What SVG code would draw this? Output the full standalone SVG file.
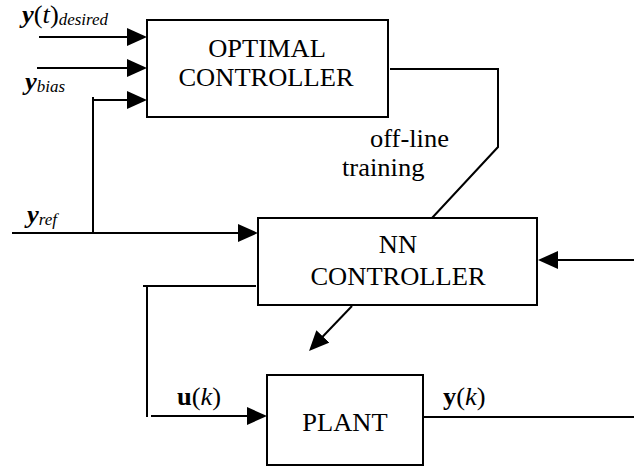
<svg xmlns="http://www.w3.org/2000/svg" width="634" height="466" viewBox="0 0 634 466">
  <defs>
    <style>
      .box { fill: #fff; stroke: #000; stroke-width: 2; }
      .wire { fill: none; stroke: #000; stroke-width: 2; }
      .arr { marker-end: url(#ah); }
      text { font-family: "Liberation Serif", "Times New Roman", serif; font-size: 25px; fill: #000; }
      .c { text-anchor: middle; }
      .sub { font-size: 16px; font-style: italic; }
      .bi { font-weight: bold; font-style: italic; }
      .b { font-weight: bold; }
      .i { font-style: italic; }
    </style>
    <marker id="ah" markerUnits="userSpaceOnUse" markerWidth="20" markerHeight="18" refX="16" refY="9" orient="auto">
      <path d="M0,0 L20,9 L0,18 z" fill="#000"/>
    </marker>
  </defs>

  <rect width="634" height="466" fill="#fff"/>

  <!-- connectors -->
  <g id="connectors">
    <path class="wire arr" d="M39,37 H143"/>
    <path class="wire arr" d="M37,68 H143"/>
    <path class="wire" d="M93,233 V97"/>
    <path class="wire arr" d="M92,100 H143"/>
    <path class="wire arr" d="M12,233 H254"/>
    <path class="wire" d="M390,69 H498 V147 L432,218"/>
    <path class="wire arr" d="M634,260 H542"/>
    <path class="wire" d="M256,286 H143"/>
    <path class="wire" d="M147,286 V417"/>
    <path class="wire arr" d="M151,416 H263"/>
    <path class="wire arr" d="M352,306 L311.8,348"/>
    <path class="wire" d="M423,417 H634"/>
  </g>

  <!-- signal labels (type set slightly wide) -->
  <g id="labels">
    <text transform="translate(22,23) scale(1.06,1)"><tspan class="bi">y</tspan>(<tspan class="i">t</tspan>)<tspan class="sub" dy="2">desired</tspan></text>
    <text transform="translate(25,90) scale(1.06,1)"><tspan class="bi">y</tspan><tspan class="sub" dy="2">bias</tspan></text>
    <text transform="translate(27,223) scale(1.06,1)"><tspan class="bi">y</tspan><tspan class="sub" dy="2">ref</tspan></text>
    <text transform="translate(370,147) scale(1.06,1)">off-line</text>
    <text transform="translate(342,176) scale(1.06,1)">training</text>
    <text transform="translate(177,405) scale(1.06,1)"><tspan class="b">u</tspan>(<tspan class="i">k</tspan>)</text>
    <text transform="translate(443,405) scale(1.06,1)"><tspan class="b">y</tspan>(<tspan class="i">k</tspan>)</text>
  </g>

  <g id="optimal-controller">
    <rect class="box" x="147" y="20" width="241" height="97"/>
    <text class="c" transform="translate(267,57) scale(1.06,1)">OPTIMAL</text>
    <text class="c" transform="translate(266,86) scale(1.06,1)">CONTROLLER</text>
  </g>

  <g id="nn-controller">
    <rect class="box" x="258" y="218" width="279" height="87"/>
    <text class="c" transform="translate(398,253) scale(1.06,1)">NN</text>
    <text class="c" transform="translate(398,285) scale(1.06,1)">CONTROLLER</text>
  </g>

  <g id="plant">
    <rect class="box" x="267" y="375" width="156" height="90"/>
    <text class="c" transform="translate(345,431) scale(1.06,1)">PLANT</text>
  </g>
</svg>
